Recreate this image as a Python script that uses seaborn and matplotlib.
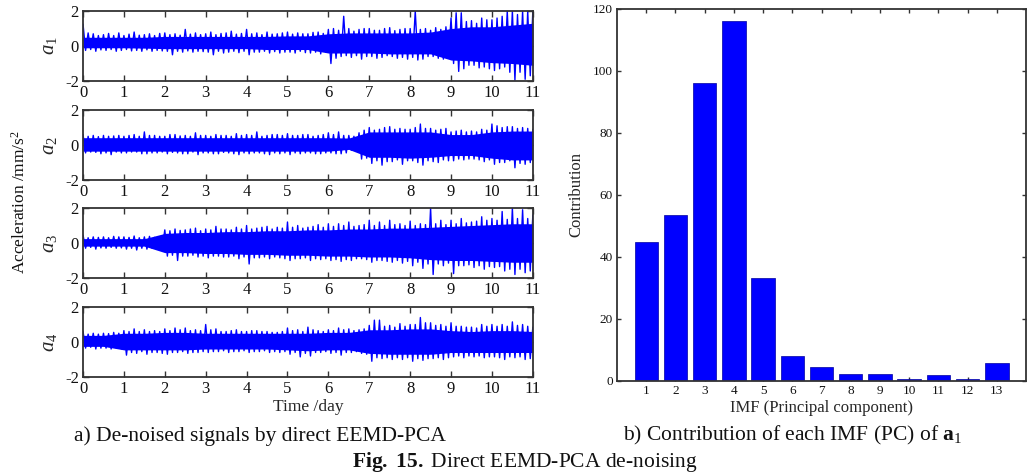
import numpy as np
import pandas as pd
import matplotlib
matplotlib.use("Agg")
import matplotlib.pyplot as plt
import seaborn as sns

# ---------------------------------------------------------------- data
# De-noised acceleration signals a1..a4 (mm/s^2) over 11 days.
# Local maxima every 1/8 day, local minima half a step later (one row per day),
# and the dense core band every 0.5 day.
peak_days = np.arange(0, 11.001, 0.125)
trough_days = peak_days[:-1] + 0.0625
core_days = np.arange(0, 11.01, 0.5)

a1_peaks = [
    1.25, 0.75, 0.7, 0.6, 0.65, 0.72, 0.6, 0.75,
    0.6, 0.68, 0.8, 0.62, 0.65, 0.7, 0.6, 0.72,
    0.75, 0.65, 0.7, 0.62, 0.95, 0.68, 0.75, 0.65,
    0.7, 0.8, 0.65, 0.72, 0.75, 0.85, 0.68, 0.72,
    0.95, 0.7, 0.75, 0.65, 0.8, 0.68, 0.7, 0.75,
    0.8, 0.68, 0.75, 0.7, 0.7, 0.78, 0.8, 0.72,
    0.95, 1.0, 0.9, 1.7, 1.0, 0.85, 0.95, 1.0,
    1.0, 0.9, 0.9, 1.0, 1.05, 0.88, 0.95, 1.0,
    1.0, 2.0, 0.95, 1.0, 0.9, 1.05, 0.95, 1.1,
    1.6, 1.9, 1.9, 1.4, 1.45, 1.3, 1.6, 1.5,
    1.5, 1.6, 1.7, 2.0, 2.0, 1.8, 2.0, 2.0,
    2.0]
a1_troughs = [
    -0.25, -0.2, -0.3, -0.22, -0.25, -0.2, -0.3, -0.25,
    -0.2, -0.28, -0.25, -0.3, -0.22, -0.3, -0.25, -0.28,
    -0.3, -0.5, -0.3, -0.35, -0.28, -0.35, -0.3, -0.32,
    -0.35, -0.5, -0.3, -0.4, -0.35, -0.3, -0.38, -0.3,
    -0.5, -0.35, -0.35, -0.3, -0.4, -0.32, -0.4, -0.35,
    -0.35, -0.4, -0.3, -0.38, -0.4, -0.35, -0.45, -0.35,
    -1.0, -0.7, -0.6, -0.55, -0.65, -0.55, -0.75, -0.6,
    -0.6, -0.7, -0.65, -0.55, -0.6, -0.7, -0.65, -0.75,
    -0.65, -0.8, -0.75, -0.6, -0.6, -0.7, -0.75, -0.65,
    -1.0, -1.45, -1.3, -1.1, -1.1, -1.25, -1.2, -1.3,
    -1.4, -1.3, -1.2, -1.5, -1.95, -1.5, -1.9, -1.7]
a1_core_hi = [0.5, 0.5, 0.5, 0.5, 0.55, 0.55, 0.55, 0.55, 0.55, 0.55, 0.58, 0.58,
              0.7, 0.75, 0.75, 0.75, 0.75, 0.8, 1.0, 1.1, 1.1, 1.2, 1.3]
a1_core_lo = [-0.1, -0.1, -0.1, -0.12, -0.15, -0.15, -0.15, -0.15, -0.15, -0.2, -0.2,
              -0.2, -0.4, -0.4, -0.4, -0.45, -0.45, -0.45, -0.8, -0.85, -0.95, -1.0, -1.1]

a2_peaks = [
    0.6, 0.5, 0.55, 0.48, 0.55, 0.5, 0.52, 0.55,
    0.5, 0.55, 0.6, 0.5, 0.75, 0.55, 0.55, 0.5,
    0.5, 0.6, 0.6, 0.52, 0.55, 0.5, 0.7, 0.55,
    0.55, 0.5, 0.6, 0.55, 0.55, 0.5, 0.65, 0.55,
    0.6, 0.55, 0.75, 0.5, 0.55, 0.6, 0.6, 0.55,
    0.65, 0.55, 0.55, 0.6, 0.6, 0.5, 0.55, 0.6,
    0.7, 0.6, 0.75, 0.55, 0.55, 0.5, 0.7, 0.85,
    1.0, 0.85, 0.9, 1.0, 1.05, 0.9, 0.95, 0.9,
    0.9, 1.0, 1.2, 0.95, 0.95, 0.85, 0.9, 0.95,
    0.75, 0.8, 0.85, 0.75, 0.8, 0.75, 0.9, 0.85,
    1.2, 1.1, 1.0, 1.05, 1.05, 0.95, 1.0, 0.95,
    0.9]
a2_troughs = [
    -0.45, -0.4, -0.42, -0.5, -0.45, -0.55, -0.4, -0.45,
    -0.45, -0.4, -0.4, -0.5, -0.5, -0.45, -0.45, -0.4,
    -0.5, -0.42, -0.45, -0.5, -0.5, -0.4, -0.55, -0.45,
    -0.45, -0.5, -0.5, -0.42, -0.45, -0.5, -0.55, -0.45,
    -0.5, -0.45, -0.45, -0.5, -0.55, -0.45, -0.5, -0.45,
    -0.55, -0.45, -0.5, -0.45, -0.45, -0.5, -0.5, -0.45,
    -0.45, -0.5, -0.5, -0.45, -0.3, -0.35, -0.8, -0.75,
    -1.05, -0.9, -1.15, -0.95, -0.95, -0.85, -1.1, -0.9,
    -0.9, -1.0, -1.15, -0.9, -0.95, -1.0, -0.85, -0.9,
    -0.9, -0.8, -0.85, -0.8, -0.8, -0.85, -0.95, -0.85,
    -1.1, -1.0, -1.0, -0.9, -1.3, -1.05, -1.1, -1.0]
a2_core_hi = [0.42, 0.42, 0.42, 0.42, 0.42, 0.42, 0.42, 0.42, 0.42, 0.42, 0.42, 0.42,
              0.42, 0.4, 0.75, 0.75, 0.75, 0.75, 0.6, 0.6, 0.75, 0.8, 0.8]
a2_core_lo = [-0.35, -0.35, -0.35, -0.35, -0.35, -0.35, -0.35, -0.35, -0.35, -0.35,
              -0.35, -0.35, -0.35, -0.25, -0.7, -0.7, -0.75, -0.7, -0.6, -0.6, -0.75,
              -0.85, -0.85]

a3_peaks = [
    0.45, 0.3, 0.35, 0.32, 0.35, 0.3, 0.38, 0.35,
    0.35, 0.32, 0.4, 0.3, 0.35, 0.38, 0.32, 0.35,
    0.75, 0.7, 0.8, 0.72, 0.75, 0.8, 0.85, 0.7,
    0.8, 0.75, 0.95, 0.8, 0.8, 0.75, 0.9, 0.8,
    1.0, 0.8, 0.85, 0.9, 0.95, 0.8, 0.9, 0.85,
    1.2, 0.9, 1.0, 0.85, 0.9, 0.95, 1.05, 0.9,
    1.1, 0.95, 1.1, 1.0, 1.2, 0.95, 1.0, 1.05,
    1.3, 1.0, 1.2, 1.0, 1.3, 1.05, 1.1, 1.0,
    1.25, 1.0, 1.1, 1.05, 2.0, 1.1, 1.3, 1.05,
    1.3, 1.1, 1.4, 1.15, 1.2, 1.25, 1.5, 1.3,
    1.4, 1.3, 1.8, 1.35, 2.0, 1.4, 1.9, 1.4,
    1.6]
a3_troughs = [
    -0.3, -0.25, -0.35, -0.28, -0.3, -0.25, -0.3, -0.28,
    -0.35, -0.3, -0.4, -0.3, -0.35, -0.3, -0.3, -0.28,
    -0.75, -0.7, -1.0, -0.75, -0.75, -0.7, -0.8, -0.75,
    -0.85, -0.75, -0.75, -0.8, -0.8, -0.75, -0.9, -0.8,
    -1.2, -0.85, -0.85, -0.8, -0.9, -0.8, -0.85, -0.9,
    -1.0, -0.9, -0.9, -0.85, -1.0, -0.9, -0.95, -0.9,
    -1.0, -0.95, -1.05, -0.95, -1.0, -0.9, -0.9, -0.95,
    -1.1, -1.0, -1.0, -1.05, -1.1, -1.0, -1.15, -1.05,
    -1.3, -1.1, -1.45, -1.2, -1.8, -1.2, -1.3, -1.15,
    -1.75, -1.3, -1.3, -1.25, -1.4, -1.3, -1.5, -1.35,
    -1.4, -1.35, -1.6, -1.5, -1.8, -1.5, -1.7, -1.6]
a3_core_hi = [0.25, 0.25, 0.25, 0.25, 0.55, 0.6, 0.6, 0.65, 0.65, 0.7, 0.7, 0.75,
              0.75, 0.8, 0.8, 0.85, 0.85, 0.9, 0.95, 1.0, 1.05, 1.1, 1.1]
a3_core_lo = [-0.18, -0.18, -0.18, -0.18, -0.55, -0.55, -0.6, -0.6, -0.65, -0.65, -0.7,
              -0.7, -0.75, -0.75, -0.8, -0.8, -0.85, -0.95, -1.0, -1.0, -1.05, -1.1, -1.1]

a4_peaks = [
    0.6, 0.45, 0.5, 0.45, 0.5, 0.48, 0.55, 0.5,
    0.65, 0.6, 0.75, 0.6, 0.7, 0.6, 0.65, 0.6,
    0.75, 0.65, 0.8, 0.7, 0.8, 0.65, 0.7, 0.65,
    1.0, 0.7, 0.75, 0.6, 0.6, 0.65, 0.7, 0.6,
    0.6, 0.65, 0.65, 0.6, 0.6, 0.55, 0.55, 0.6,
    0.8, 0.65, 0.7, 0.6, 0.85, 0.7, 0.65, 0.6,
    0.7, 0.65, 0.8, 0.7, 0.75, 0.65, 0.7, 0.75,
    0.95, 1.25, 1.25, 0.9, 0.95, 0.85, 1.05, 0.9,
    1.0, 1.0, 1.4, 1.1, 1.1, 0.95, 1.0, 0.9,
    1.1, 0.9, 0.9, 0.85, 0.85, 0.8, 1.0, 0.9,
    1.0, 0.9, 1.0, 0.9, 1.15, 0.95, 1.0, 0.9,
    0.85]
a4_troughs = [
    -0.35, -0.3, -0.4, -0.35, -0.35, -0.4, -0.35, -0.4,
    -0.75, -0.6, -0.65, -0.55, -0.7, -0.6, -0.6, -0.65,
    -0.7, -0.6, -0.6, -0.55, -0.65, -0.6, -0.6, -0.55,
    -0.6, -0.55, -0.55, -0.5, -0.6, -0.55, -0.55, -0.5,
    -0.6, -0.55, -0.55, -0.5, -0.6, -0.55, -0.6, -0.55,
    -0.7, -0.6, -0.85, -0.65, -0.8, -0.6, -0.6, -0.55,
    -0.65, -0.6, -0.75, -0.6, -0.6, -0.55, -0.65, -0.7,
    -1.1, -0.9, -0.95, -0.9, -1.0, -0.9, -1.0, -0.9,
    -1.1, -0.95, -1.05, -0.95, -0.95, -0.9, -1.0, -0.9,
    -0.85, -0.8, -0.9, -0.8, -0.85, -0.8, -0.9, -0.85,
    -0.85, -0.9, -1.0, -0.85, -0.9, -0.85, -1.0, -0.95]
a4_core_hi = [0.38, 0.38, 0.5, 0.5, 0.55, 0.55, 0.5, 0.5, 0.5, 0.5, 0.5, 0.5,
              0.55, 0.55, 0.7, 0.7, 0.75, 0.75, 0.65, 0.6, 0.65, 0.65, 0.6]
a4_core_lo = [-0.25, -0.25, -0.45, -0.45, -0.45, -0.45, -0.4, -0.4, -0.4, -0.4, -0.45,
              -0.5, -0.45, -0.45, -0.65, -0.7, -0.7, -0.7, -0.6, -0.6, -0.6, -0.6, -0.6]

signals = [
    ("1", a1_peaks, a1_troughs, a1_core_hi, a1_core_lo),
    ("2", a2_peaks, a2_troughs, a2_core_hi, a2_core_lo),
    ("3", a3_peaks, a3_troughs, a3_core_hi, a3_core_lo),
    ("4", a4_peaks, a4_troughs, a4_core_hi, a4_core_lo),
]

# Contribution of each IMF (principal component) of a1
imf_index = list(range(1, 14))
contribution = [44.8, 53.5, 96.2, 116.1, 33.2, 8.2, 4.5, 2.3, 2.3, 0.8, 1.9, 0.5, 5.8]

day_ticks = list(range(0, 12))
amp_ticks = [-2, 0, 2]
contrib_ticks = [0, 20, 40, 60, 80, 100, 120]

# ---------------------------------------------------------------- style
sns.set_theme(style="ticks")
plt.rcParams["font.family"] = ["Liberation Serif", "DejaVu Serif"]
plt.rcParams["mathtext.fontset"] = "custom"
plt.rcParams["mathtext.it"] = "Liberation Serif:italic"
plt.rcParams["mathtext.rm"] = "Liberation Serif"
plt.rcParams["mathtext.bf"] = "Liberation Serif:bold"
plt.rcParams["axes.unicode_minus"] = False

BLUE = "#0000ff"
SPINE = "#333333"
INK = "#111111"

fig = plt.figure(figsize=(10.34, 4.76), dpi=100)


def style_axes(ax, labelsize, ticklen):
    for s in ax.spines.values():
        s.set_color(SPINE)
        s.set_linewidth(1.3)
    ax.tick_params(direction="in", top=True, right=True, length=ticklen,
                   width=1.0, color=SPINE, labelsize=labelsize, pad=3,
                   labelcolor=INK)


# ---------------------------------------------------------------- left: signals
left_x, left_w, pan_h = 0.0803, 0.435, 0.147
bottoms = [0.8298, 0.6218, 0.416, 0.208]

for (idx, peaks, troughs, core_hi, core_lo), b in zip(signals, bottoms):
    ax = fig.add_axes([left_x, b, left_w, pan_h])
    ax.fill_between(core_days, core_lo, core_hi, color=BLUE, lw=0)
    zig = pd.DataFrame({
        "day": np.concatenate([peak_days, trough_days]),
        "acc": np.concatenate([peaks, troughs]),
    }).sort_values("day")
    sns.lineplot(data=zig, x="day", y="acc", ax=ax, color=BLUE, lw=1.0,
                 estimator=None, sort=False)
    ax.set_xlim(0, 11)
    ax.set_ylim(-2, 2)
    ax.set_xticks(day_ticks)
    ax.set_yticks(amp_ticks)
    ax.set_xlabel("")
    ax.set_ylabel(f"$a_{idx}$", fontsize=15, labelpad=4)
    style_axes(ax, 12, 4)
    if idx == "4":
        ax.set_xlabel("Time /day", fontsize=12.5, labelpad=1)

fig.text(0.019, 0.575, "Acceleration /mm/s$^2$", rotation=90,
         ha="center", va="center", fontsize=12.5, color=INK)

# ---------------------------------------------------------------- right: bars
axb = fig.add_axes([0.5967, 0.1996, 0.3956, 0.7815])
bar_df = pd.DataFrame({"imf": imf_index, "contrib": contribution})
sns.barplot(data=bar_df, x="imf", y="contrib", ax=axb, native_scale=True,
            color=BLUE, saturation=1, width=0.8, edgecolor="#0000a0", linewidth=0.5)
axb.set_xlim(0, 14)
axb.set_ylim(0, 120)
axb.set_xticks(imf_index)
axb.set_yticks(contrib_ticks)
axb.set_xlabel("IMF (Principal component)", fontsize=12, labelpad=2)
axb.set_ylabel("Contribution", fontsize=12, labelpad=6)
style_axes(axb, 9.5, 3)

# ---------------------------------------------------------------- captions
fig.text(0.2515, 0.074, "a) De-noised signals by direct EEMD-PCA",
         ha="center", va="baseline", fontsize=15.5, color=INK)
fig.text(0.7665, 0.074, "b) Contribution of each IMF (PC) of $\\mathbf{a}_1$",
         ha="center", va="baseline", fontsize=15.5, color=INK)
fig.text(0.5077, 0.019, "$\\mathbf{Fig.\\ 15.}$ Direct EEMD-PCA de-noising",
         ha="center", va="baseline", fontsize=15.5, color=INK)

fig.savefig("out.png", dpi=100)
